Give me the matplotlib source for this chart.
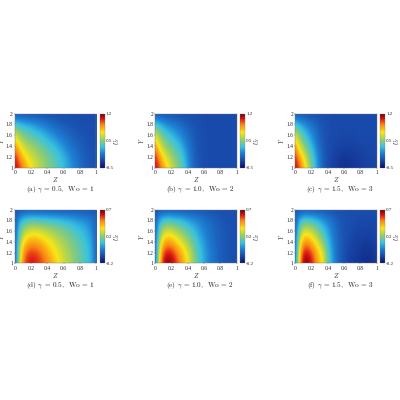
import numpy as np
import matplotlib
matplotlib.use("Agg")
import matplotlib.pyplot as plt
from matplotlib.colors import LinearSegmentedColormap

plt.rcParams['mathtext.fontset'] = 'cm'
plt.rcParams['font.family'] = ['cmr10', 'DejaVu Serif']
plt.rcParams['axes.formatter.use_mathtext'] = True

# values read every 0.05 in Z (21 columns), every 0.2 in Y (6 rows)
dz = 0.05
dy = 0.2

# --------------------------
# Top row
# --------------------------
panel_a = [
    [1.10, 1.02, 0.90, 0.78, 0.68, 0.60, 0.54, 0.49, 0.44, 0.39, 0.35, 0.30, 0.26, 0.20, 0.14, 0.09, 0.04, 0.00, -0.03, -0.05, -0.05],
    [1.05, 0.90, 0.76, 0.66, 0.60, 0.55, 0.50, 0.46, 0.41, 0.37, 0.33, 0.28, 0.23, 0.17, 0.11, 0.07, 0.02, -0.01, -0.03, -0.05, -0.06],
    [0.85, 0.70, 0.58, 0.52, 0.48, 0.44, 0.40, 0.36, 0.32, 0.28, 0.24, 0.19, 0.14, 0.09, 0.05, 0.02, -0.01, -0.03, -0.05, -0.06, -0.07],
    [0.62, 0.50, 0.42, 0.38, 0.35, 0.31, 0.28, 0.24, 0.20, 0.16, 0.12, 0.08, 0.05, 0.02, -0.01, -0.03, -0.04, -0.05, -0.06, -0.07, -0.07],
    [0.30, 0.27, 0.24, 0.21, 0.18, 0.15, 0.12, 0.09, 0.06, 0.03, 0.01, -0.01, -0.03, -0.04, -0.05, -0.06, -0.07, -0.07, -0.07, -0.07, -0.07],
    [-0.08, -0.08, -0.08, -0.08, -0.08, -0.08, -0.08, -0.08, -0.08, -0.08, -0.08, -0.08, -0.08, -0.08, -0.08, -0.08, -0.08, -0.08, -0.08, -0.08, -0.08],
]
panel_b = [
    [1.10, 1.00, 0.86, 0.72, 0.60, 0.50, 0.42, 0.32, 0.18, 0.06, -0.02, -0.05, -0.07, -0.08, -0.08, -0.08, -0.08, -0.08, -0.08, -0.08, -0.08],
    [1.05, 0.88, 0.70, 0.58, 0.50, 0.42, 0.35, 0.26, 0.15, 0.05, -0.02, -0.05, -0.07, -0.08, -0.08, -0.08, -0.08, -0.08, -0.08, -0.08, -0.08],
    [0.85, 0.65, 0.52, 0.44, 0.38, 0.32, 0.26, 0.18, 0.09, 0.02, -0.03, -0.06, -0.07, -0.08, -0.08, -0.08, -0.08, -0.08, -0.08, -0.08, -0.08],
    [0.62, 0.48, 0.37, 0.30, 0.25, 0.20, 0.15, 0.09, 0.04, 0.00, -0.04, -0.06, -0.07, -0.08, -0.08, -0.08, -0.08, -0.08, -0.08, -0.08, -0.08],
    [0.30, 0.25, 0.18, 0.14, 0.10, 0.07, 0.04, 0.01, -0.02, -0.04, -0.06, -0.07, -0.08, -0.08, -0.08, -0.08, -0.08, -0.08, -0.08, -0.08, -0.08],
    [-0.08, -0.08, -0.08, -0.08, -0.08, -0.08, -0.08, -0.08, -0.08, -0.08, -0.08, -0.08, -0.08, -0.08, -0.08, -0.08, -0.08, -0.08, -0.08, -0.08, -0.08],
]
panel_c = [
    [1.10, 1.00, 0.82, 0.62, 0.42, 0.25, 0.10, -0.02, -0.08, -0.11, -0.13, -0.16, -0.17, -0.17, -0.16, -0.14, -0.13, -0.12, -0.11, -0.10, -0.10],
    [1.05, 0.85, 0.68, 0.50, 0.36, 0.22, 0.08, -0.02, -0.07, -0.10, -0.12, -0.14, -0.15, -0.15, -0.14, -0.13, -0.12, -0.11, -0.10, -0.09, -0.09],
    [0.85, 0.62, 0.48, 0.36, 0.25, 0.14, 0.03, -0.03, -0.07, -0.08, -0.10, -0.10, -0.11, -0.11, -0.11, -0.10, -0.10, -0.09, -0.09, -0.09, -0.08],
    [0.62, 0.45, 0.32, 0.24, 0.15, 0.07, 0.00, -0.04, -0.07, -0.08, -0.08, -0.09, -0.09, -0.09, -0.09, -0.08, -0.08, -0.08, -0.08, -0.08, -0.08],
    [0.30, 0.22, 0.16, 0.11, 0.06, 0.02, -0.03, -0.05, -0.07, -0.08, -0.08, -0.08, -0.08, -0.08, -0.08, -0.08, -0.08, -0.08, -0.08, -0.08, -0.08],
    [-0.08, -0.08, -0.08, -0.08, -0.08, -0.08, -0.08, -0.08, -0.08, -0.08, -0.08, -0.08, -0.08, -0.08, -0.08, -0.08, -0.08, -0.08, -0.08, -0.08, -0.08],
]

# --------------------------
# Bottom row
# --------------------------
panel_d = [
    [-0.03, 0.30, 0.53, 0.60, 0.62, 0.61, 0.58, 0.55, 0.51, 0.46, 0.42, 0.37, 0.33, 0.30, 0.27, 0.23, 0.20, 0.17, 0.14, 0.09, -0.04],
    [-0.03, 0.27, 0.48, 0.56, 0.58, 0.57, 0.55, 0.51, 0.46, 0.42, 0.38, 0.35, 0.31, 0.28, 0.25, 0.22, 0.20, 0.17, 0.14, 0.09, -0.04],
    [-0.03, 0.22, 0.38, 0.44, 0.47, 0.47, 0.45, 0.42, 0.39, 0.36, 0.33, 0.30, 0.28, 0.25, 0.23, 0.20, 0.18, 0.15, 0.12, 0.07, -0.04],
    [-0.03, 0.16, 0.27, 0.32, 0.34, 0.34, 0.33, 0.32, 0.30, 0.28, 0.26, 0.24, 0.22, 0.20, 0.18, 0.16, 0.14, 0.12, 0.09, 0.05, -0.04],
    [-0.03, 0.09, 0.14, 0.17, 0.18, 0.18, 0.17, 0.17, 0.16, 0.15, 0.15, 0.14, 0.13, 0.12, 0.11, 0.09, 0.08, 0.07, 0.05, 0.03, -0.04],
    [-0.06, -0.06, -0.06, -0.06, -0.06, -0.06, -0.06, -0.06, -0.06, -0.06, -0.06, -0.06, -0.06, -0.06, -0.06, -0.06, -0.06, -0.06, -0.06, -0.06, -0.06],
]
panel_e = [
    [-0.03, 0.38, 0.62, 0.69, 0.66, 0.60, 0.53, 0.46, 0.38, 0.30, 0.22, 0.16, 0.10, 0.06, 0.02, 0.00, -0.03, -0.04, -0.05, -0.06, -0.06],
    [-0.03, 0.34, 0.56, 0.61, 0.60, 0.55, 0.48, 0.42, 0.35, 0.28, 0.20, 0.15, 0.10, 0.06, 0.02, 0.00, -0.03, -0.04, -0.05, -0.06, -0.06],
    [-0.03, 0.27, 0.43, 0.48, 0.46, 0.42, 0.37, 0.32, 0.27, 0.22, 0.17, 0.12, 0.08, 0.04, 0.01, -0.01, -0.03, -0.04, -0.05, -0.06, -0.06],
    [-0.03, 0.18, 0.30, 0.33, 0.32, 0.29, 0.26, 0.22, 0.19, 0.15, 0.12, 0.08, 0.05, 0.02, 0.00, -0.02, -0.03, -0.04, -0.05, -0.06, -0.06],
    [-0.03, 0.10, 0.15, 0.17, 0.16, 0.15, 0.14, 0.12, 0.10, 0.08, 0.06, 0.04, 0.02, 0.00, -0.01, -0.03, -0.04, -0.05, -0.05, -0.06, -0.06],
    [-0.06, -0.06, -0.06, -0.06, -0.06, -0.06, -0.06, -0.06, -0.06, -0.06, -0.06, -0.06, -0.06, -0.06, -0.06, -0.06, -0.06, -0.06, -0.06, -0.06, -0.06],
]
panel_f = [
    [-0.03, 0.42, 0.66, 0.69, 0.62, 0.53, 0.44, 0.36, 0.20, 0.10, 0.03, -0.03, -0.06, -0.09, -0.10, -0.11, -0.12, -0.13, -0.13, -0.12, -0.10],
    [-0.03, 0.37, 0.60, 0.62, 0.57, 0.49, 0.41, 0.33, 0.19, 0.09, 0.02, -0.03, -0.05, -0.08, -0.09, -0.10, -0.11, -0.12, -0.12, -0.11, -0.09],
    [-0.03, 0.30, 0.47, 0.49, 0.44, 0.38, 0.30, 0.22, 0.14, 0.07, 0.01, -0.03, -0.05, -0.07, -0.08, -0.09, -0.09, -0.10, -0.10, -0.09, -0.08],
    [-0.03, 0.20, 0.33, 0.34, 0.31, 0.26, 0.21, 0.15, 0.10, 0.04, 0.00, -0.03, -0.05, -0.06, -0.07, -0.08, -0.08, -0.08, -0.08, -0.08, -0.07],
    [-0.03, 0.10, 0.16, 0.17, 0.15, 0.13, 0.10, 0.07, 0.04, 0.01, -0.02, -0.04, -0.05, -0.06, -0.06, -0.07, -0.07, -0.07, -0.07, -0.07, -0.07],
    [-0.06, -0.06, -0.06, -0.06, -0.06, -0.06, -0.06, -0.06, -0.06, -0.06, -0.06, -0.06, -0.06, -0.06, -0.06, -0.06, -0.06, -0.06, -0.06, -0.06, -0.06],
]

captions = [
    r"(a) $\gamma$ = 0.5,  Wo = 1", r"(b) $\gamma$ = 1.0,  Wo = 2", r"(c) $\gamma$ = 1.5,  Wo = 3",
    r"(d) $\gamma$ = 0.5,  Wo = 1", r"(e) $\gamma$ = 1.0,  Wo = 2", r"(f) $\gamma$ = 1.5,  Wo = 3",
]
panels = [panel_a, panel_b, panel_c, panel_d, panel_e, panel_f]

z_ticks = [0, 0.2, 0.4, 0.6, 0.8, 1]
z_labels = ["0", "0.2", "0.4", "0.6", "0.8", "1"]
y_ticks = [1, 1.2, 1.4, 1.6, 1.8, 2]
y_labels = ["1", "1.2", "1.4", "1.6", "1.8", "2"]

ranges = [(-0.3, 1.2), (-0.2, 0.7)]
cbar_ticks = [[-0.3, 0.45, 1.2], [-0.2, 0.25, 0.7]]
cbar_labels = [["-0.5", "0.5", "1.2"], ["-0.2", "0.2", "0.7"]]
cbar_names = [r"$U_Y$", r"$U_Z$"]

cmap = LinearSegmentedColormap.from_list("field", [
    (0.00, (0.04, 0.06, 0.42)),
    (0.15, (0.10, 0.30, 0.68)),
    (0.28, (0.12, 0.52, 0.84)),
    (0.38, (0.22, 0.76, 0.88)),
    (0.50, (0.55, 0.80, 0.45)),
    (0.65, (0.98, 0.90, 0.08)),
    (0.80, (0.98, 0.52, 0.08)),
    (0.90, (0.86, 0.08, 0.08)),
    (1.00, (0.42, 0.00, 0.03)),
])

# pixel positions, the picture is 400x400
W = 400.0
lefts = [15, 155.3, 295.3]
widths = 81.2
tops = [113.5, 209.7]
heights = [54.2, 53.6]
cap_x = [60, 200, 340]
cap_y = [189.5, 285.5]

fig = plt.figure(figsize=(4, 4), dpi=100)

for i, data in enumerate(panels):
    row = i // 3
    col = i % 3
    vmin, vmax = ranges[row]
    ax = fig.add_axes([lefts[col] / W, 1 - (tops[row] + heights[row]) / W, widths / W, heights[row] / W])
    im = ax.imshow(np.array(data), cmap=cmap, vmin=vmin, vmax=vmax, origin="lower", aspect="auto",
                   interpolation="bicubic", extent=(-dz / 2, 1 + dz / 2, 1 - dy / 2, 2 + dy / 2))
    ax.set_xlim(0, 1)
    ax.set_ylim(1, 2)
    ax.set_xticks(z_ticks, z_labels, family="Liberation Serif")
    ax.set_yticks(y_ticks, y_labels, family="Liberation Serif")
    ax.tick_params(labelsize=4.0, length=0.8, width=0.3, pad=0.8, color="#555555", labelcolor="#222222")
    ax.set_xlabel(r"$Z$", fontsize=4.6, labelpad=0, color="#222222")
    ax.set_ylabel(r"$Y$", fontsize=4.2, color="#222222")
    ax.yaxis.set_label_coords(-0.112, 0.5)
    for s in ax.spines.values():
        s.set_linewidth(0.3)
        s.set_color("#777777")

    cax = fig.add_axes([(lefts[col] + 85) / W, 1 - (tops[row] + heights[row]) / W, 5 / W, heights[row] / W])
    cb = fig.colorbar(im, cax=cax)
    cb.set_ticks(cbar_ticks[row], labels=cbar_labels[row], family="Liberation Serif")
    cb.ax.tick_params(labelsize=3.6, length=0, pad=0.6, labelcolor="#222222")
    cb.outline.set_linewidth(0.2)
    cb.outline.set_edgecolor("#777777")
    cb.ax.text(3.35, 0.5, cbar_names[row], transform=cb.ax.transAxes, rotation=90,
               fontsize=4.2, ha="center", va="center", color="#222222")

    fig.text(cap_x[col] / W, 1 - cap_y[row] / W, captions[i], fontsize=5.2, ha="center", va="center", color="#222222")

fig.savefig("out.png", dpi=100)
